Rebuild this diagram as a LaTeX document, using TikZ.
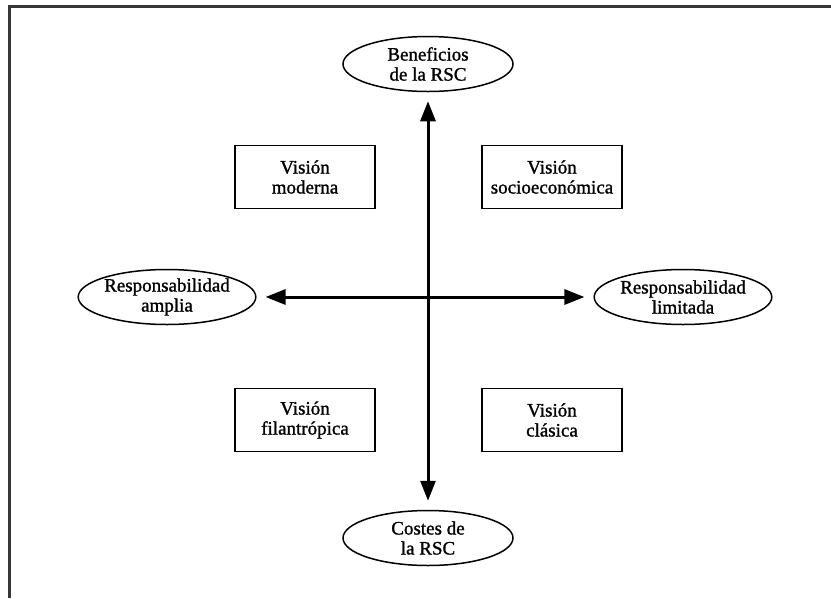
\documentclass[tikz,border=0pt]{standalone}
\usepackage{fontspec}
\setmainfont{Liberation Serif}
\newfontfamily\scanfont[FakeBold=1.2]{Liberation Serif}
\usepackage{tikz}
\usetikzlibrary{positioning,calc}
\usetikzlibrary{arrows.meta,shapes.geometric}
\definecolor{FrameGray}{RGB}{55,55,55}
\tikzset{
  pole/.style={ellipse,draw=black,line width=1.5pt,fill=white,inner sep=0pt,
    minimum width=170pt,minimum height=55pt,align=center,font=\scanfont\fontsize{19}{20}\selectfont},
  vbox/.style={draw=black,line width=1.7pt,minimum width=140pt,minimum height=63pt,
    inner sep=0pt,align=center,font=\scanfont\fontsize{19}{20}\selectfont},
  axis/.style={line width=3pt,{Triangle[width=15pt,length=20pt]}-{Triangle[width=15pt,length=20pt]},
    shorten <=9pt,shorten >=9pt},
}
\tikzset{rim/.style={draw=FrameGray,line width=3pt}}

\begin{document}
\begin{tikzpicture}[x=1pt,y=-1pt]
\useasboundingbox (0,0) rectangle (831,598);
% frame (cut at right and bottom)
\coordinate (fa) at (9.5,598);
\coordinate (fb) at (9.5,6.5);
\coordinate (fc) at (831,6.5);
\draw[rim] (fa)--(fb)--(fc);
% poles
\node[pole] (bene) at (428,64) {Beneficios\\de la RSC};
\node[pole] (costes) at (428,538) {Costes de\\la RSC};
\node[pole] (amplia) at (167,297) {Responsabilidad\\amplia};
\node[pole] (limitada) at (683,297) {Responsabilidad\\limitada};
% quadrants
\node[vbox] (moderna) at (305,177) {Visión\\moderna};
\node[vbox] (socio) at (552,177) {Visión\\socioeconómica};
\node[vbox] (filan) at (305,420) {Visión\\filantrópica};
\node[vbox] (clasica) at (552,420) {Visión\\clásica};
% axes
\draw[axis] (costes)--(bene);
\draw[axis] (amplia)--(limitada);
\end{tikzpicture}
\end{document}
